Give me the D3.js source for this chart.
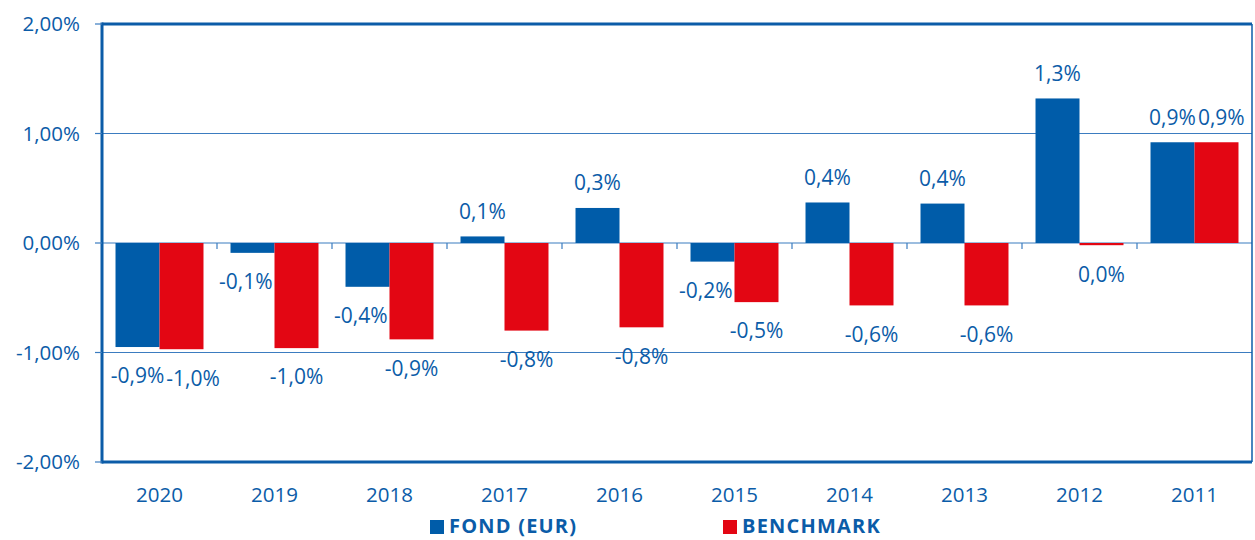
<!DOCTYPE html>
<html lang="cs">
<head>
	<meta charset="utf-8">
	<title>Fond vs Benchmark</title>
	<script src='https://d3js.org/d3.v7.min.js'></script>
	<style>
		body { margin: 0; background: #fff; }
		text { font-family: "Open Sans", "Noto Sans", sans-serif; fill: #0b5ca8; }
	</style>
</head>
<body>
	<div id="chart"></div>
	<script>
		// data (in %)
		const years = ["2020","2019","2018","2017","2016","2015","2014","2013","2012","2011"];
		const fond = [-0.95, -0.09, -0.40, 0.06, 0.32, -0.17, 0.37, 0.36, 1.32, 0.92];
		const benchmark = [-0.97, -0.96, -0.88, -0.80, -0.77, -0.54, -0.57, -0.57, -0.02, 0.92];
		const seriesNames = ["FOND (EUR)", "BENCHMARK"];
		const yTicks = [2, 1, 0, -1, -2];

		const width = 1255, height = 540;
		const plotLeft = 102, plotRight = 1252, plotTop = 24, plotBottom = 462;
		const blue = "#005ca9", red = "#e30613", ink = "#0b5ca8";

		var svg = d3.select("#chart").append("svg")
			.attr("width", width)
			.attr("height", height);

		let x0 = d3.scaleBand().domain(years).range([plotLeft, plotRight])
			.paddingInner(0.235).paddingOuter(0.1175);
		let x1 = d3.scaleBand().domain([0, 1]).range([0, x0.bandwidth()]);
		let y = d3.scaleLinear().domain([-2, 2]).range([plotBottom, plotTop]);

		let fmt = function(v) { return d3.format(".1f")(v).replace(".", ",").replace("−", "-") + "%"; };

		// gridlines
		svg.append("g").selectAll("line")
			.data([1, 0, -1])
			.enter().append("line")
			.attr("x1", plotLeft).attr("x2", plotRight)
			.attr("y1", d => y(d)).attr("y2", d => y(d))
			.attr("stroke", "#3b7cc0").attr("stroke-width", 1.2);

		// category tick marks on zero line
		let step = x0.step();
		svg.append("g").selectAll("line")
			.data(d3.range(1, years.length))
			.enter().append("line")
			.attr("x1", d => plotLeft + d * step).attr("x2", d => plotLeft + d * step)
			.attr("y1", y(0)).attr("y2", y(0) + 6)
			.attr("stroke", "#3b7cc0").attr("stroke-width", 1.2);

		// bars
		let groups = svg.append("g").selectAll("g.year")
			.data(years)
			.enter().append("g")
			.attr("class", "year")
			.attr("transform", d => "translate(" + x0(d) + ",0)");

		groups.each(function(yr, i) {
			let vals = [fond[i], benchmark[i]];
			let g = d3.select(this);
			g.selectAll("rect").data(vals).enter().append("rect")
				.attr("x", (d, j) => x1(j))
				.attr("width", x1.bandwidth())
				.attr("y", d => y(Math.max(0, d)))
				.attr("height", d => Math.abs(y(d) - y(0)))
				.attr("fill", (d, j) => j === 0 ? blue : red);
			let labels = g.selectAll("text").data(vals).enter().append("text")
				.attr("x", (d, j) => x1(j) + x1.bandwidth() / 2)
				.attr("y", d => d >= 0 ? y(d) - 25 : y(d) + 29)
				.attr("dy", "0.35em")
				.attr("text-anchor", "middle")
				.style("font-size", "21px")
				.text(d => fmt(d));

			// keep labels off the neighbouring bar / label
			let nodes = labels.nodes();
			let bl = nodes[0].getBBox(), rl = nodes[1].getBBox();
			let redTop = y(Math.max(0, vals[1])), redBot = y(Math.min(0, vals[1]));
			let redLeft = x1(1);
			if (bl.y < redBot && bl.y + bl.height > redTop && bl.x + bl.width > redLeft) {
				let shift = bl.x + bl.width - redLeft + 2;
				d3.select(nodes[0]).attr("x", +d3.select(nodes[0]).attr("x") - shift);
				bl = nodes[0].getBBox();
			}
			if (bl.y < rl.y + rl.height && bl.y + bl.height > rl.y && bl.x + bl.width > rl.x) {
				let overlap = bl.x + bl.width - rl.x + 2;
				d3.select(nodes[1]).attr("x", +d3.select(nodes[1]).attr("x") + overlap);
			}
		});

		// frame
		svg.append("line").attr("x1", plotLeft).attr("x2", plotRight).attr("y1", plotTop).attr("y2", plotTop)
			.attr("stroke", ink).attr("stroke-width", 3);
		svg.append("line").attr("x1", plotLeft).attr("x2", plotRight).attr("y1", plotBottom).attr("y2", plotBottom)
			.attr("stroke", ink).attr("stroke-width", 3);
		svg.append("line").attr("x1", plotLeft).attr("x2", plotLeft).attr("y1", plotTop - 1.5).attr("y2", plotBottom + 1.5)
			.attr("stroke", ink).attr("stroke-width", 3);
		svg.append("line").attr("x1", plotRight).attr("x2", plotRight).attr("y1", plotTop).attr("y2", plotBottom)
			.attr("stroke", ink).attr("stroke-width", 1.5);

		// y axis ticks + labels
		let yAxis = svg.append("g");
		yAxis.selectAll("line").data(yTicks).enter().append("line")
			.attr("x1", plotLeft - 7).attr("x2", plotLeft)
			.attr("y1", d => y(d)).attr("y2", d => y(d))
			.attr("stroke", "#3b7cc0").attr("stroke-width", 1.2);
		yAxis.selectAll("text").data(yTicks).enter().append("text")
			.attr("x", 80).attr("y", d => y(d))
			.attr("dy", "0.35em")
			.attr("text-anchor", "end")
			.style("font-size", "20.5px")
			.text(d => d3.format(".2f")(d).replace(".", ",").replace("−", "-") + "%");

		// x labels
		svg.append("g").selectAll("text").data(years).enter().append("text")
			.attr("x", d => x0(d) + x0.bandwidth() / 2)
			.attr("y", 495).attr("dy", "0.35em")
			.attr("text-anchor", "middle")
			.style("font-size", "20.5px")
			.text(d => d);

		// legend
		let legendX = [430, 723];
		let legend = svg.append("g").selectAll("g").data(seriesNames).enter().append("g")
			.attr("transform", (d, i) => "translate(" + legendX[i] + ",520)");
		legend.append("rect").attr("width", 14).attr("height", 14)
			.attr("fill", (d, i) => i === 0 ? blue : red);
		legend.append("text").attr("x", 19).attr("y", 6).attr("dy", "0.35em")
			.style("font-size", "20px").style("font-weight", "bold")
			.style("letter-spacing", "1.2px")
			.text(d => d);
	</script>
</body>
</html>
